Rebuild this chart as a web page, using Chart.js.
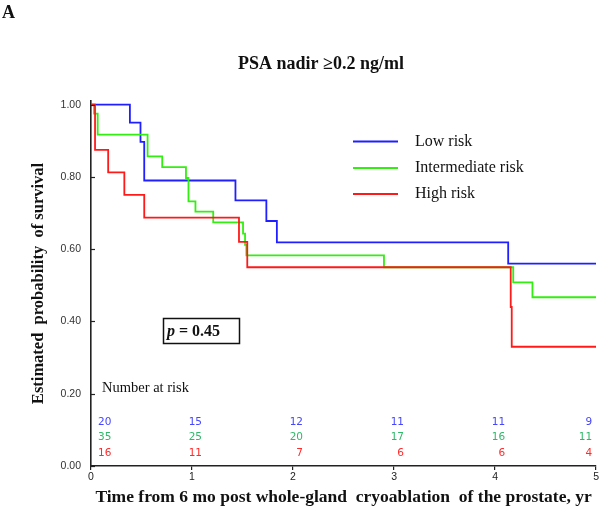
<!DOCTYPE html>
<html>
<head>
<meta charset="utf-8">
<script src="https://cdn.jsdelivr.net/npm/chart.js@4/dist/chart.umd.min.js"></script>
<style>
  html, body { margin: 0; padding: 0; background: #fff; }
  #wrap { width: 600px; height: 516px; }
</style>
</head>
<body>
<div id="wrap"><canvas id="km"></canvas></div>
<script>
// 카플란-마이어 곡선 (PSA nadir >= 0.2)
const lowTimes = [0, 0.385, 0.49, 0.527, 1.43, 1.736, 1.84, 4.13, 5];
const lowSurv  = [1, 0.95, 0.897, 0.79, 0.735, 0.678, 0.619, 0.56, 0.56];

const midTimes = [0, 0.03, 0.066, 0.56, 0.705, 0.94, 0.965, 1.034, 1.21, 1.505, 1.525, 1.538, 2.9, 4.18, 4.37, 5];
const midSurv  = [1, 0.975, 0.917, 0.857, 0.827, 0.797, 0.732, 0.704, 0.674, 0.643, 0.612, 0.583, 0.55, 0.508, 0.467, 0.467];

const highTimes = [0, 0.04, 0.17, 0.33, 0.527, 1.465, 1.547, 4.155, 4.165, 5];
const highSurv  = [1, 0.875, 0.8125, 0.75, 0.6875, 0.62, 0.55, 0.44, 0.33, 0.33];

// Number at risk
const riskTimes = [0, 1, 2, 3, 4, 5];
const riskLow  = [20, 15, 12, 11, 11, 9];
const riskMid  = [35, 25, 20, 17, 16, 11];
const riskHigh = [16, 11, 7, 6, 6, 4];

const groupLabels = ['Low risk', 'Intermediate risk', 'High risk'];
const xTicks = [0, 1, 2, 3, 4, 5];
const yTicks = [0, 0.2, 0.4, 0.6, 0.8, 1.0];

const SERIF = '"Liberation Serif", "Times New Roman", serif';
const SANS = '"Liberation Sans", Arial, sans-serif';

const toPts = (ts, vs) => ts.map((t, i) => ({ x: t, y: vs[i] }));

// 주석 그리기 (제목, 범례, p값, 위험군 수)
const annotations = {
  id: 'annotations',
  afterDraw(chart) {
    const { ctx, chartArea: ca, scales: { x, y } } = chart;
    ctx.save();

    // y축 안쪽 눈금
    ctx.strokeStyle = '#222';
    ctx.lineWidth = 1.2;
    for (const v of yTicks) {
      const py = Math.round(y.getPixelForValue(v)) + 0.5;
      ctx.beginPath();
      ctx.moveTo(ca.left, py);
      ctx.lineTo(ca.left + 4, py);
      ctx.stroke();
    }

    // 패널 문자
    ctx.fillStyle = '#111';
    ctx.textBaseline = 'alphabetic';
    ctx.textAlign = 'left';
    ctx.font = 'bold 18px ' + SERIF;
    ctx.fillText('A', 2, 18);

    // 제목
    ctx.textAlign = 'center';
    ctx.font = 'bold 18px ' + SERIF;
    ctx.fillText('PSA nadir \u22650.2 ng/ml', 321, 69);

    // 범례
    const legY = [141.5, 168, 194];
    chart.data.datasets.forEach((ds) => {
      const k = groupLabels.indexOf(ds.label);
      ctx.strokeStyle = ds.borderColor;
      ctx.lineWidth = 2;
      ctx.beginPath();
      ctx.moveTo(353, legY[k]);
      ctx.lineTo(398, legY[k]);
      ctx.stroke();
      ctx.fillStyle = '#111';
      ctx.textAlign = 'left';
      ctx.textBaseline = 'middle';
      ctx.font = '16px ' + SERIF;
      ctx.fillText(ds.label, 415, legY[k]);
    });

    // p 값 상자
    ctx.strokeStyle = '#111';
    ctx.lineWidth = 1.5;
    ctx.strokeRect(163.5, 318.5, 76, 25);
    ctx.fillStyle = '#111';
    ctx.textBaseline = 'alphabetic';
    ctx.font = 'italic bold 16px ' + SERIF;
    ctx.fillText('p', 167, 336);
    const pw = ctx.measureText('p').width;
    ctx.font = 'bold 16px ' + SERIF;
    ctx.fillText(' = 0.45', 167 + pw, 336);

    // Number at risk
    ctx.font = '14.5px ' + SERIF;
    ctx.textBaseline = 'middle';
    ctx.fillText('Number at risk', 102, 388);

    const rows = [
      { vals: riskLow, color: '#4646ff', dy: 44 },
      { vals: riskMid, color: '#2fb86a', dy: 28.5 },
      { vals: riskHigh, color: '#ff2a2a', dy: 13 },
    ];
    ctx.font = '10.5px "DejaVu Sans", Verdana, sans-serif';
    for (const r of rows) {
      ctx.fillStyle = r.color;
      riskTimes.forEach((t, i) => {
        const px = x.getPixelForValue(t);
        if (i === 0) {
          ctx.textAlign = 'left';
          ctx.fillText(String(r.vals[i]), px + 7, ca.bottom - r.dy);
        } else if (i === riskTimes.length - 1) {
          ctx.textAlign = 'right';
          ctx.fillText(String(r.vals[i]), px - 4, ca.bottom - r.dy);
        } else {
          ctx.textAlign = 'right';
          ctx.fillText(String(r.vals[i]), px + 10, ca.bottom - r.dy);
        }
      });
    }
    ctx.restore();
  }
};

const ctx = document.getElementById('km').getContext('2d');
new Chart(ctx, {
  type: 'line',
  data: {
    datasets: [
      {
        label: groupLabels[0],
        data: toPts(lowTimes, lowSurv),
        borderColor: '#1f1fff',
        order: 2,
      },
      {
        label: groupLabels[1],
        data: toPts(midTimes, midSurv),
        borderColor: '#33ee11',
        order: 1,
      },
      {
        label: groupLabels[2],
        data: toPts(highTimes, highSurv),
        borderColor: '#ff1a1a',
        order: 0,
      },
    ].map(ds => Object.assign(ds, {
      stepped: 'before',
      borderWidth: 1.8,
      pointRadius: 0,
      fill: false,
    }))
  },
  options: {
    responsive: true,
    maintainAspectRatio: false,
    animation: false,
    events: [],
    layout: { padding: { top: 101, left: 0, right: 3, bottom: 0 } },
    plugins: {
      legend: { display: false },
      title: { display: false },
      tooltip: { enabled: false },
    },
    scales: {
      x: {
        type: 'linear',
        min: 0, max: 5,
        afterFit: s => { s.height = 50; },
        afterBuildTicks: s => { s.ticks = xTicks.map(v => ({ value: v })); },
        ticks: {
          color: '#222',
          font: { family: SANS, size: 10.5 },
          padding: 1,
          maxRotation: 0,
          callback: v => String(v),
        },
        grid: { drawOnChartArea: false, drawTicks: true, tickLength: 4, color: '#222', lineWidth: 1.2 },
        border: { color: '#222', width: 1.6 },
        title: {
          display: true,
          text: 'Time from 6 mo post whole-gland  cryoablation  of the prostate, yr',
          color: '#111',
          font: { family: SERIF, size: 17.5, weight: 'bold', lineHeight: 1.2 },
          padding: { top: 0, bottom: 8 },
        },
      },
      y: {
        type: 'linear',
        min: 0, max: 1.01,
        afterFit: s => { s.width = 91; },
        afterBuildTicks: s => { s.ticks = yTicks.map(v => ({ value: v })); },
        ticks: {
          color: '#333',
          font: { family: SANS, size: 10.5 },
          padding: 10,
          callback: v => Number(v).toFixed(2),
        },
        grid: { drawOnChartArea: false, drawTicks: false },
        border: { color: '#222', width: 1.6 },
        title: {
          display: true,
          text: 'Estimated  probability  of survival',
          color: '#111',
          font: { family: SERIF, size: 16.5, weight: 'bold', lineHeight: 1.2 },
          padding: { top: 29, bottom: 0 },
        },
      },
    },
  },
  plugins: [annotations],
});
</script>
</body>
</html>
